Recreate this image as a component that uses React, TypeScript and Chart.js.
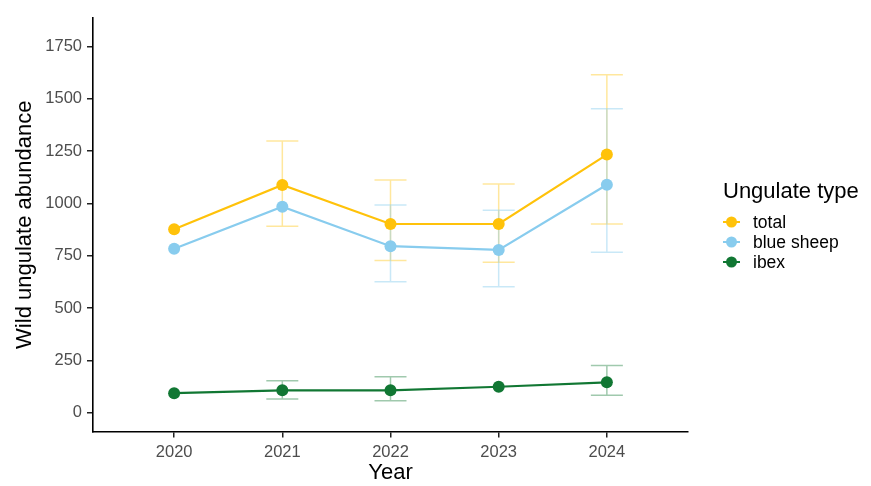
import { useEffect, useRef } from 'react';
import { Chart, registerables, Plugin } from 'chart.js';

Chart.register(...registerables);

const years = [2020, 2021, 2022, 2023, 2024];
const yTicks = [0, 250, 500, 750, 1000, 1250, 1500, 1750];

const seriesNames = ['total', 'blue sheep', 'ibex'];
const seriesColors = ['#FFC20A', '#88CCEE', '#117733'];
const errColors = ['rgba(255,194,10,0.4)', 'rgba(136,204,238,0.45)', 'rgba(17,119,51,0.4)'];

const totalValues = [877, 1089, 902, 902, 1234];
const totalLow = [null, 891, 727, 719, 902];
const totalHigh = [null, 1299, 1112, 1093, 1616];

const sheepValues = [784, 985, 796, 778, 1090];
const sheepLow = [null, null, 626, 602, 767];
const sheepHigh = [null, null, 993, 968, 1453];

const ibexValues = [93, 107, 107, 124, 145];
const ibexLow = [null, 65, 57, null, 83];
const ibexHigh = [null, 153, 172, null, 225];

const lows = [totalLow, sheepLow, ibexLow];
const highs = [totalHigh, sheepHigh, ibexHigh];

const FONT = '"Liberation Sans", Arial, sans-serif';

// error bars drawn behind lines and points
const errorBars: Plugin<'line'> = {
  id: 'errorBars',
  beforeDatasetsDraw(chart) {
    const { ctx, scales } = chart;
    const x = scales.x;
    const y = scales.y;
    ctx.save();
    ctx.lineWidth = 1.5;
    lows.forEach((low, s) => {
      ctx.strokeStyle = errColors[s];
      years.forEach((yr, i) => {
        const lo = low[i];
        const hi = highs[s][i];
        if (lo == null || hi == null) return;
        const px = x.getPixelForValue(yr);
        const pLo = y.getPixelForValue(lo);
        const pHi = y.getPixelForValue(hi);
        ctx.beginPath();
        ctx.moveTo(px, pLo);
        ctx.lineTo(px, pHi);
        ctx.moveTo(px - 16, pLo);
        ctx.lineTo(px + 16, pLo);
        ctx.moveTo(px - 16, pHi);
        ctx.lineTo(px + 16, pHi);
        ctx.stroke();
      });
    });
    ctx.restore();
  },
};

// ggplot-like legend on the right
const sideLegend: Plugin<'line'> = {
  id: 'sideLegend',
  afterDraw(chart) {
    const { ctx } = chart;
    ctx.save();
    ctx.fillStyle = '#000';
    ctx.font = `22px ${FONT}`;
    ctx.textBaseline = 'alphabetic';
    ctx.textAlign = 'left';
    ctx.fillText('Ungulate type', 723, 198);
    ctx.font = `17.5px ${FONT}`;
    ctx.textBaseline = 'middle';
    seriesNames.forEach((name, i) => {
      const cy = 222 + i * 20;
      ctx.strokeStyle = seriesColors[i];
      ctx.lineWidth = 2;
      ctx.beginPath();
      ctx.moveTo(723, cy);
      ctx.lineTo(740, cy);
      ctx.stroke();
      ctx.fillStyle = seriesColors[i];
      ctx.beginPath();
      ctx.arc(731.5, cy, 5.5, 0, Math.PI * 2);
      ctx.fill();
      ctx.fillStyle = '#000';
      ctx.fillText(name, 753, cy + 1);
    });
    ctx.restore();
  },
};

const App = () => {
  const canvasRef = useRef<HTMLCanvasElement>(null);
  const chartRef = useRef<Chart<'line'> | null>(null);

  useEffect(() => {
    document.body.style.margin = '0';
    if (!canvasRef.current) return;
    if (chartRef.current) chartRef.current.destroy();

    const valueSets = [totalValues, sheepValues, ibexValues];

    chartRef.current = new Chart(canvasRef.current, {
      type: 'line',
      data: {
        datasets: valueSets.map((vals, s) => ({
          label: seriesNames[s],
          data: years.map((yr, i) => ({ x: yr, y: vals[i] })),
          borderColor: seriesColors[s],
          backgroundColor: seriesColors[s],
          borderWidth: 2.2,
          pointRadius: 6,
          pointBorderWidth: 0,
          tension: 0,
        })),
      },
      options: {
        animation: false,
        responsive: false,
        layout: { padding: { top: 18, right: 183, left: 0, bottom: 0 } },
        plugins: { legend: { display: false }, tooltip: { enabled: false } },
        scales: {
          x: {
            type: 'linear',
            min: 2019.25,
            max: 2024.75,
            afterBuildTicks: (scale) => {
              scale.ticks = years.map((v) => ({ value: v }));
            },
            afterFit: (scale) => {
              scale.height = 54.5;
            },
            border: { color: '#000', width: 1.6 },
            grid: {
              drawOnChartArea: false,
              drawTicks: true,
              color: '#222',
              lineWidth: 1.5,
              tickLength: 6,
              tickColor: '#222',
              tickWidth: 1.5,
            },
            ticks: {
              color: '#4D4D4D',
              padding: 5,
              font: { family: FONT, size: 16.5 },
              callback: (v) => String(v),
            },
            title: {
              display: true,
              text: 'Year',
              color: '#000',
              font: { family: FONT, size: 22 },
              padding: { top: 0, bottom: 0 },
            },
          },
          y: {
            type: 'linear',
            min: -90,
            max: 1887,
            afterBuildTicks: (scale) => {
              scale.ticks = yTicks.map((v) => ({ value: v }));
            },
            afterFit: (scale) => {
              scale.width = 93;
            },
            border: { color: '#000', width: 1.6 },
            grid: {
              drawOnChartArea: false,
              drawTicks: true,
              color: '#222',
              lineWidth: 1.5,
              tickLength: 6,
              tickColor: '#222',
              tickWidth: 1.5,
            },
            ticks: {
              color: '#4D4D4D',
              padding: 5,
              font: { family: FONT, size: 16.5 },
              callback: (v) => String(v),
            },
            title: {
              display: true,
              text: 'Wild ungulate abundance',
              color: '#000',
              font: { family: FONT, size: 22 },
              padding: { top: 12, bottom: 0 },
            },
          },
        },
      },
      plugins: [errorBars, sideLegend],
    });

    return () => {
      if (chartRef.current) {
        chartRef.current.destroy();
        chartRef.current = null;
      }
    };
  }, []);

  return (
    <div style={{ position: 'absolute', left: 0, top: 0, width: 871, height: 486 }}>
      <canvas ref={canvasRef} width={871} height={486} />
    </div>
  );
};

export default App;
